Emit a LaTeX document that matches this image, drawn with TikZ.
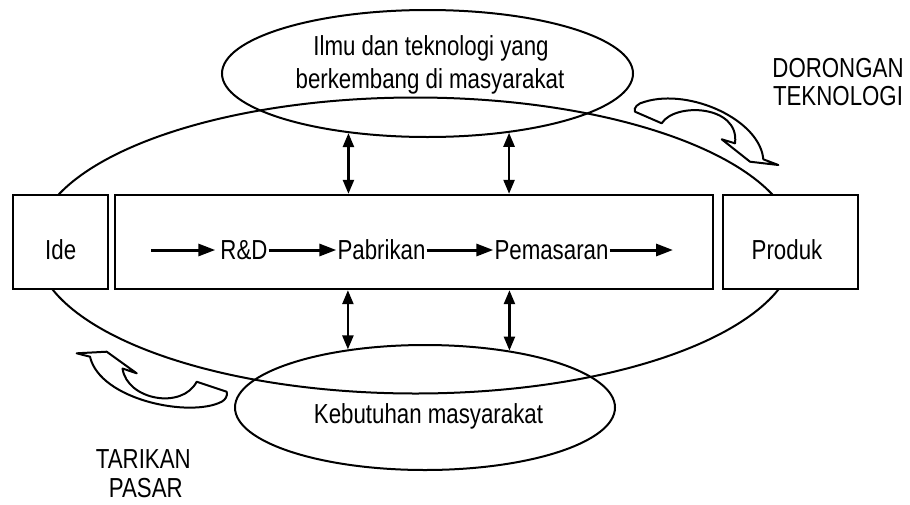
\documentclass[tikz,border=0pt]{standalone}
\usepackage{fontspec}
\setmainfont[FakeStretch=0.81]{Liberation Sans}
\usetikzlibrary{shapes.geometric,arrows.meta}
\begin{document}
\begin{tikzpicture}[x=1pt,y=-1pt,
  txt/.style={inner sep=1pt, font=\fontsize{27.5}{33}\selectfont},
  boxnode/.style={draw, line width=2.4pt, fill=white, inner sep=0pt, minimum height=94pt},
  ell/.style={draw, ellipse, line width=2pt, inner sep=0pt},
  dbl/.style={{Triangle[length=14pt,width=11pt]}-{Triangle[length=14pt,width=11pt]}, line width=2.4pt},
  harrow/.style={-{Triangle[length=17pt,width=12pt]}, line width=3pt},
  curv/.style={draw, fill=white, line width=2pt, line join=round}]
\useasboundingbox (0,0) rectangle (910,504);

% big ellipse
\node[ell, minimum width=760pt, minimum height=296pt] (big) at (415.5,245.5) {};

% boxes
\node[boxnode, minimum width=95pt] (ide) at (60.5,242) {};
\node[boxnode, minimum width=598pt] (mid) at (414,242) {};
\node[boxnode, minimum width=135pt] (prod) at (790.5,242) {};
\node[txt, anchor=base] at (60.7,259.5) {Ide};
\node[txt, anchor=base] at (787,259.5) {Produk};

% top and bottom ellipses
\node[ell, minimum width=411pt, minimum height=127pt] (top) at (427.5,73.5) {};
\node[txt, anchor=base] at (431,55.5) {Ilmu dan teknologi yang};
\node[txt, anchor=base] at (430,88.5) {berkembang di masyarakat};
\node[ell, minimum width=380pt, minimum height=125pt] (bot) at (425,407.5) {};
\node[txt, anchor=base] at (428.5,423.5) {Kebutuhan masyarakat};

% chain inside the middle box
\coordinate (s) at (151,250);
\coordinate (e) at (673,250);
\node[txt, anchor=base] (rd) at (244,259.5) {R\&D};
\node[txt, anchor=base] (pab) at (381.5,259.5) {Pabrikan};
\node[txt, anchor=base] (pem) at (551.5,259.5) {Pemasaran};
\draw[harrow, shorten >=4pt] (s) -- (rd.west |- s);
\draw[harrow] (rd.east |- s) -- (pab.west |- s);
\draw[harrow] (pab.east |- s) -- (pem.west |- s);
\draw[harrow] (pem.east |- s) -- (e);

% vertical double arrows
\draw[dbl] (top.217) -- (top.217 |- mid.north);
\draw[dbl] (top.324) -- (top.324 |- mid.north);
\draw[dbl] (bot.143 |- mid.south) -- (bot.143);
\draw[dbl] (bot.34 |- mid.south) -- (bot.34);

% curved block arrows
\draw[curv] (635,111.7) -- (661.7,123.3) .. controls (675,102) and (740,105) .. (735,143.3)
  -- (721.7,139.3) -- (750,161.7) -- (778.3,165) -- (763.3,159.3)
  .. controls (760,120) and (690,88) .. (645,101.7)
  .. controls (638,103) and (633,108) .. cycle;
\draw[curv] (76.7,353.3) -- (106.7,351.7) -- (136.7,373.3) -- (122.5,368.5)
  .. controls (127,400) and (182,410) .. (196.7,381.7) -- (226.7,391.7)
  .. controls (228,396) and (225,400) .. (221.7,401.7)
  .. controls (190,418) and (100,400) .. (90,356.7) -- cycle;

% side labels
\node[txt, anchor=base] at (838,77) {DORONGAN};
\node[txt, anchor=base] at (838,105.5) {TEKNOLOGI};
\node[txt, anchor=base] at (143.3,468.5) {TARIKAN};
\node[txt, anchor=base] at (145.8,497) {PASAR};
\end{tikzpicture}
\end{document}
